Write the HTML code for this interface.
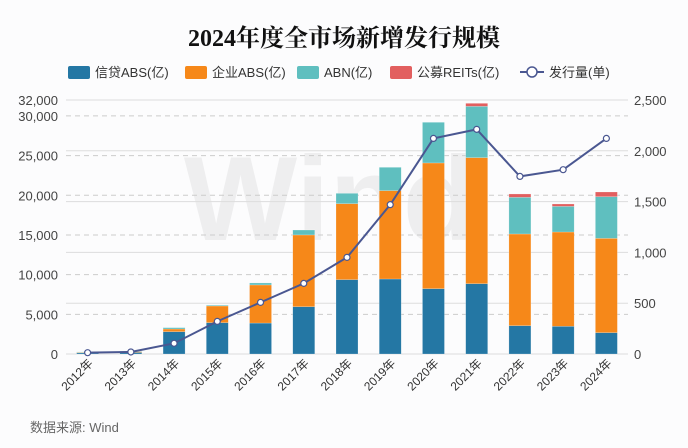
<!DOCTYPE html>
<html><head><meta charset="utf-8">
<style>
body{margin:0;background:#fcfcfd;}
svg{display:block;font-family:"Liberation Sans","Noto Sans CJK SC",sans-serif;}
</style></head><body>
<svg id="c" width="688" height="448" viewBox="0 0 688 448">
<rect width="688" height="448" fill="#fcfcfd"/>
<text x="344" y="46" text-anchor="middle" font-size="24" font-weight="bold" font-family="'Liberation Serif','Noto Serif CJK SC',serif" fill="#111">2024年度全市场新增发行规模</text>
<text x="330" y="240" text-anchor="middle" font-size="120" font-weight="bold" fill="#eeeeef">Wind</text>
<g id="grid"></g><g id="bars"></g><g id="line"></g><g id="axes"></g>
<g id="legend" font-size="13" fill="#333"></g>
<text x="30" y="432" font-size="13" fill="#666">数据来源: Wind</text>
</svg>
<script>
const categories=["2012年","2013年","2014年","2015年","2016年","2017年","2018年","2019年","2020年","2021年","2022年","2023年","2024年"];
const creditABS=[150,200,2810,3950,3900,5960,9370,9450,8230,8860,3570,3490,2690];
const corpABS=[60,100,340,2100,4800,9040,9570,11130,15840,15880,11550,11880,11880];
const abn=[50,50,170,100,250,620,1300,2940,5120,6460,4620,3230,5250];
const reits=[0,0,0,0,0,0,0,0,0,380,420,300,590];
const issueCount=[13,20,105,321,508,695,951,1470,2122,2211,1748,1814,2122];
const leftTicks=[0,5000,10000,15000,20000,25000,30000,32000];
const rightTicks=[0,500,1000,1500,2000,2500];
const ns="http://www.w3.org/2000/svg";
const X0=66,X1=628,Y0=354,Y1=100;
const step=(X1-X0)/categories.length;
const xc=i=>X0+step*(i+0.5);
const yl=v=>Y0-(v/32000)*(Y0-Y1);
const yr=v=>Y0-(v/2500)*(Y0-Y1);
function mk(t,a,p){const e=document.createElementNS(ns,t);for(const k in a)e.setAttribute(k,a[k]);p.appendChild(e);return e;}
const grid=document.getElementById('grid'),axes=document.getElementById('axes');
rightTicks.forEach(v=>{const l=mk('line',{x1:X0,x2:X1,y1:yr(v),y2:yr(v),stroke:'#ddd','stroke-width':1},grid);


const t=mk('text',{x:634,y:yr(v)+5,'font-size':13,fill:'#444'},axes);t.textContent=v.toLocaleString('en-US');

});
leftTicks.forEach(v=>{if(v>0&&v<32000){const l=mk('line',{x1:X0,x2:X1,y1:yl(v),y2:yl(v),stroke:'#ccc','stroke-dasharray':'5,4'},grid);

}
const t=mk('text',{x:58,y:yl(v)+5,'font-size':13,fill:'#444','text-anchor':'end'},axes);t.textContent=v.toLocaleString('en-US');

});
const series=[[creditABS,'#2477a4','bar-credit-abs'],[corpABS,'#f68819','bar-corp-abs'],[abn,'#5fbfbf','bar-abn'],[reits,'#e25f5f','bar-reits']];
const bars=document.getElementById('bars');
categories.forEach((c,i)=>{let acc=0;series.forEach(([arr,col,name])=>{const v=arr[i];if(v>0){const r=mk('rect',{x:xc(i)-11,width:22,y:yl(acc+v),height:yl(acc)-yl(acc+v),fill:col,stroke:'rgba(255,255,255,0.4)','stroke-width':0.5},bars);

}acc+=v;});
const t=mk('text',{x:0,y:0,'font-size':12,fill:'#333','text-anchor':'end',transform:`translate(${xc(i)+6},${Y0+10}) rotate(-45)`},axes);t.textContent=c;

});
const line=document.getElementById('line');
const pl=mk('polyline',{points:issueCount.map((v,i)=>xc(i)+','+yr(v)).join(' '),fill:'none',stroke:'#4a5791','stroke-width':2},line);


issueCount.forEach((v,i)=>{const c=mk('circle',{cx:xc(i),cy:yr(v),r:3,fill:'#fff',stroke:'#4a5791','stroke-width':1.2},line);

});
const lg=document.getElementById('legend');
const items=[['信贷ABS(亿)','#2477a4',68],['企业ABS(亿)','#f68819',185],['ABN(亿)','#5fbfbf',297],['公募REITs(亿)','#e25f5f',390]];
items.forEach(([n,col,x])=>{const g=mk('g',{},lg);

mk('rect',{x:x,y:66,width:22,height:13,rx:2,fill:col},g);const t=mk('text',{x:x+27,y:77},g);t.textContent=n;});
const g=mk('g',{},lg);

mk('line',{x1:520,x2:544,y1:72,y2:72,stroke:'#4a5791','stroke-width':2},g);
mk('circle',{cx:532,cy:72,r:5,fill:'#fff',stroke:'#4a5791','stroke-width':1.5},g);
const t=mk('text',{x:549,y:77},g);t.textContent='发行量(单)';
</script>
</body></html>
